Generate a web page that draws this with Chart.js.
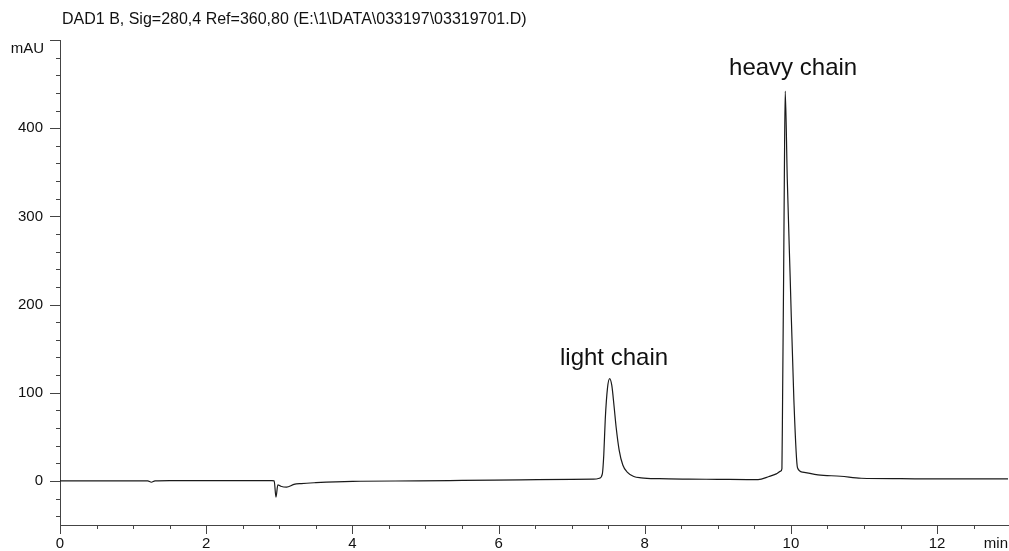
<!DOCTYPE html>
<html>
<head>
<meta charset="utf-8">
<title>DAD1 B chromatogram</title>
<script src="https://cdn.jsdelivr.net/npm/chart.js@4.4.1/dist/chart.umd.min.js"></script>
<style>
 html,body{margin:0;padding:0;background:#fff;}
 #chart{display:block;}
</style>
</head>
<body>
<canvas id="chart" width="1009" height="551"></canvas>
<script>
// signal trace: retention time (min) and absorbance (mAU)
var time=[0,1.0,1.2,1.25,1.3,1.5,2.0,2.5,2.9,2.93,2.955,2.98,3.02,3.1,3.2,3.3,3.5,4.0,4.9,5.5,6.3,7.0,
 7.3,7.38,7.42,7.44,7.46,7.49,7.52,7.55,7.58,7.61,7.65,7.70,7.76,7.85,7.95,8.2,8.6,9.0,9.4,9.55,9.7,9.8,9.86,
 9.877,9.886,9.90,9.91,9.922,9.95,9.99,10.04,10.09,10.16,10.37,10.68,10.96,11.5,12.0,12.5,12.97];
var absorbance=[0,0,0,-1.5,0,0.3,0.3,0.3,0.3,0,-18.5,-4.5,-6,-7,-4,-3,-2,-0.5,0,0.5,1.2,1.8,
 2,3,8,30,70,105,116,108,85,60,35,18,10,5,3.5,2.5,2,1.8,1.5,1.5,5,8,11,
 14,93,230,343,442,343,230,93,15,10,6.8,5.3,3,2.5,2.3,2.2,2.3];
// axis settings
var x_range=[0,12.97];
var y_range=[-50,500];
var title_text="DAD1 B, Sig=280,4 Ref=360,80 (E:\\1\\DATA\\033197\\03319701.D)";
// peak labels (in data units)
var peak_names=["light chain","heavy chain"];
var peak_label_x=[7.58,10.03];
var peak_label_y=[132,460];

var points=time.map(function(t,i){return {x:t,y:absorbance[i]};});
var font_family="'Liberation Sans', Arial, Helvetica, sans-serif";
var ink="#111";

/* ticks, unit labels, title and peak names */
var decor={
 id:'decor',
 afterDraw:function(chart){
  var ctx=chart.ctx,area=chart.chartArea,xs=chart.scales.x,ys=chart.scales.y;
  ctx.save();
  ctx.strokeStyle="#444";
  ctx.lineWidth=1;
  ctx.beginPath();
  // x ticks
  xs.ticks.forEach(function(t){
   var px=Math.round(xs.getPixelForValue(t.value))+0.5;
   var len=(t.value%2===0)?9:4;
   ctx.moveTo(px,area.bottom);ctx.lineTo(px,area.bottom+len);
  });
  // y ticks
  ys.ticks.forEach(function(t){
   var py=Math.round(ys.getPixelForValue(t.value))+0.5;
   var len=(t.value%100===0)?10:4;
   ctx.moveTo(area.left-len,py);ctx.lineTo(area.left,py);
  });
  // top end of y axis
  ctx.moveTo(area.left-6,area.top+0.5);ctx.lineTo(area.left,area.top+0.5);
  ctx.stroke();
  // texts
  ctx.fillStyle=ink;
  ctx.textBaseline="middle";
  ctx.font="16px "+font_family;
  ctx.textAlign="left";
  ctx.fillText(title_text,62,20);
  ctx.font="15px "+font_family;
  ctx.textAlign="right";
  ctx.fillText("mAU",44,49);
  ctx.fillText("min",area.right,544);
  ctx.font="24px "+font_family;
  ctx.textAlign="center";
  ctx.textBaseline="alphabetic";
  peak_names.forEach(function(name,i){
   ctx.fillText(name,xs.getPixelForValue(peak_label_x[i]),ys.getPixelForValue(peak_label_y[i]));
  });
  ctx.restore();
 }
};

var ctx=document.getElementById("chart").getContext('2d');
var myChart=new Chart(ctx,{
 type:'line',
 data:{
  datasets:[{
   label:'DAD1 B',
   data:points,
   borderColor:'#1a1a1a',
   borderWidth:1.2,
   pointRadius:0,
   fill:false,
   cubicInterpolationMode:'monotone'
  }]
 },
 options:{
  responsive:false,
  animation:false,
  layout:{padding:{top:40,right:1,left:0,bottom:0}},
  plugins:{legend:{display:false},tooltip:{enabled:false},title:{display:false}},
  scales:{
   x:{
    type:'linear',
    min:x_range[0],max:x_range[1],
    afterFit:function(scale){scale.height=25;},
    border:{display:true,color:'#444',width:1},
    grid:{display:true,drawOnChartArea:false,drawTicks:false},
    ticks:{
     stepSize:0.5,includeBounds:false,autoSkip:false,maxRotation:0,padding:10,
     color:ink,font:{family:font_family,size:15},
     callback:function(v){return (v%2===0)?v:'';}
    }
   },
   y:{
    type:'linear',
    min:y_range[0],max:y_range[1],
    afterFit:function(scale){scale.width=60;},
    border:{display:true,color:'#444',width:1},
    grid:{display:true,drawOnChartArea:false,drawTicks:false},
    ticks:{
     stepSize:20,includeBounds:false,autoSkip:false,padding:17,
     color:ink,font:{family:font_family,size:15},
     // the top end carries the unit instead of a number
     callback:function(v){return (v%100===0&&v<y_range[1])?v:'';}
    }
   }
  }
 },
 plugins:[decor]
});
</script>
</body>
</html>
